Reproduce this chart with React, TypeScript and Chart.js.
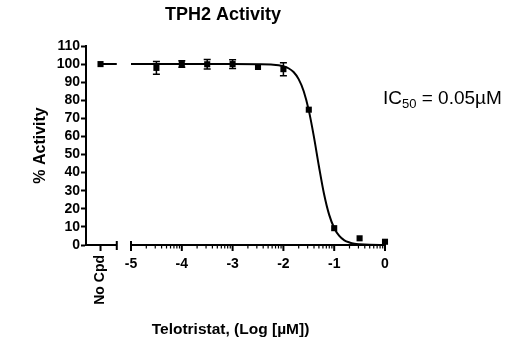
import React, { useEffect, useRef } from "react";
import { Chart, registerables } from "chart.js";

Chart.register(...registerables);

// ---- Text ----
const titleText = "TPH2 Activity";
const yTitleText = "% Activity";
const xTitleText = "Telotristat, (Log [µM])";
const noCpdLabel = "No Cpd";
const icMain = "IC";
const icSub = "50";
const icRest = " = 0.05µM";

// ---- Axes ----
const yMin = 0;
const yMax = 110;
const yStep = 10;
const xMajorTicks = [-5, -4, -3, -2, -1, 0];
const xMin = -5.886;
const xMax = 0;
const segment1End = -5.28;
const segment2Start = -5;

// ---- Data ----
const noCpdX = -5.6;
const noCpdY = 100;

const doseLog = [-4.5, -4, -3.5, -3, -2.5, -2, -1.5, -1, -0.5, 0];
const activity = [97.9, 100, 99.9, 100, 98.4, 97.2, 74.8, 9.3, 3.7, 1.8];
const activitySem = [3.5, 1.8, 2.6, 2.4, 0, 3.6, 0, 0, 0, 0];

// fitted curve
const curveSeg1X = [-5.62, -5.28];
const curveSeg1Y = [100, 100];
const curveX = [-5, -4, -3, -2.5, -2.2, -2.0, -1.9, -1.8, -1.7, -1.6, -1.5, -1.4, -1.3, -1.2, -1.1, -1.0, -0.9, -0.8, -0.7, -0.6, -0.5, -0.3, 0];
const curveY = [100, 100, 100, 99.9, 99.7, 98.8, 97.7, 95.6, 91.7, 85.0, 74.4, 59.9, 43.4, 28.2, 16.8, 9.4, 5.0, 2.6, 1.4, 0.7, 0.4, 0.1, 0];

const FONT = "'Liberation Sans', Arial, Helvetica, sans-serif";

const overlayPlugin = {
  id: "overlay",
  beforeDatasetsDraw(chart: any) {
    const ctx = chart.ctx;
    const xs = chart.scales.x;
    const ys = chart.scales.y;
    ctx.save();
    ctx.strokeStyle = "#000";
    ctx.lineWidth = 1.5;
    doseLog.forEach((x, i) => {
      const e = activitySem[i];
      if (!e) return;
      const px = xs.getPixelForValue(x);
      const y1 = ys.getPixelForValue(activity[i] + e);
      const y2 = ys.getPixelForValue(activity[i] - e);
      ctx.beginPath();
      ctx.moveTo(px, y1);
      ctx.lineTo(px, y2);
      ctx.moveTo(px - 3.5, y1);
      ctx.lineTo(px + 3.5, y1);
      ctx.moveTo(px - 3.5, y2);
      ctx.lineTo(px + 3.5, y2);
      ctx.stroke();
    });
    ctx.restore();
  },
  afterDraw(chart: any) {
    const ctx = chart.ctx;
    const xs = chart.scales.x;
    const ys = chart.scales.y;
    const area = chart.chartArea;
    const y0 = ys.getPixelForValue(yMin);
    ctx.save();
    ctx.strokeStyle = "#000";
    ctx.fillStyle = "#000";
    ctx.lineWidth = 2;
    ctx.lineCap = "butt";

    // segment 1 (No Cpd)
    const s1a = area.left;
    const s1b = xs.getPixelForValue(segment1End);
    ctx.beginPath();
    ctx.moveTo(s1a - 1, y0);
    ctx.lineTo(s1b, y0);
    ctx.moveTo(s1b, y0 - 4);
    ctx.lineTo(s1b, y0 + 5);
    const pNo = xs.getPixelForValue(noCpdX);
    ctx.moveTo(pNo, y0);
    ctx.lineTo(pNo, y0 + 6);
    ctx.stroke();

    // segment 2
    const s2a = xs.getPixelForValue(segment2Start);
    const s2b = xs.getPixelForValue(xMax);
    ctx.beginPath();
    ctx.moveTo(s2a, y0);
    ctx.lineTo(s2b + 1, y0);
    ctx.moveTo(s2a, y0 - 4);
    ctx.lineTo(s2a, y0 + 5);
    xMajorTicks.forEach((t) => {
      const p = xs.getPixelForValue(t);
      ctx.moveTo(p, y0);
      ctx.lineTo(p, y0 + 6);
    });
    ctx.stroke();
    ctx.lineWidth = 1.2;
    ctx.beginPath();
    for (let d = -5; d < 0; d++) {
      for (let k = 2; k <= 9; k++) {
        const p = xs.getPixelForValue(d + Math.log10(k));
        ctx.moveTo(p, y0);
        ctx.lineTo(p, y0 + 3.5);
      }
    }
    ctx.stroke();

    // x tick labels
    ctx.font = `bold 14px ${FONT}`;
    ctx.textAlign = "center";
    ctx.textBaseline = "middle";
    xMajorTicks.forEach((t) => {
      const p = xs.getPixelForValue(t);
      ctx.fillText(String(t), p, y0 + 19);
    });
    // No Cpd label (rotated)
    ctx.save();
    ctx.translate(pNo, y0 + 10);
    ctx.rotate(-Math.PI / 2);
    ctx.textAlign = "right";
    ctx.textBaseline = "middle";
    ctx.fillText(noCpdLabel, 0, 0);
    ctx.restore();

    // x title
    ctx.font = `bold 15.5px ${FONT}`;
    ctx.textAlign = "center";
    ctx.textBaseline = "middle";
    ctx.fillText(xTitleText, (area.left + area.right) / 2 - 5, 330);

    // y title
    ctx.save();
    ctx.font = `bold 16px ${FONT}`;
    ctx.translate(41, (area.top + area.bottom) / 2);
    ctx.rotate(-Math.PI / 2);
    ctx.textAlign = "center";
    ctx.textBaseline = "middle";
    ctx.fillText(yTitleText, 0, 0);
    ctx.restore();

    // main title
    ctx.font = `bold 18px ${FONT}`;
    ctx.textAlign = "center";
    ctx.textBaseline = "middle";
    ctx.fillText(titleText, 223, 15);

    // IC50 annotation
    ctx.textAlign = "left";
    ctx.textBaseline = "alphabetic";
    let x = 383;
    const base = 104;
    ctx.font = `19px ${FONT}`;
    ctx.fillText(icMain, x, base);
    x += ctx.measureText(icMain).width;
    ctx.font = `13px ${FONT}`;
    ctx.fillText(icSub, x, base + 4);
    x += ctx.measureText(icSub).width;
    ctx.font = `19px ${FONT}`;
    ctx.fillText(icRest, x, base);

    ctx.restore();
  },
};

export default function App() {
  const ref = useRef<HTMLCanvasElement | null>(null);
  useEffect(() => {
    if (!ref.current) return;
    const pointData = [{ x: noCpdX, y: noCpdY }].concat(
      doseLog.map((x, i) => ({ x, y: activity[i] }))
    );
    const curveData: any[] = curveSeg1X
      .map((x, i) => ({ x, y: curveSeg1Y[i] }))
      .concat([{ x: (segment1End + segment2Start) / 2, y: null as any }])
      .concat(curveX.map((x, i) => ({ x, y: curveY[i] })));

    const chart = new Chart(ref.current, {
      type: "scatter",
      data: {
        datasets: [
          {
            type: "scatter",
            data: pointData,
            pointStyle: "rect",
            pointRadius: 4.3,
            pointHoverRadius: 4.3,
            backgroundColor: "#000",
            borderColor: "#000",
            borderWidth: 0,
            clip: false as any,
            order: 0,
          },
          {
            type: "line",
            data: curveData,
            borderColor: "#000",
            borderWidth: 2,
            pointRadius: 0,
            fill: false,
            cubicInterpolationMode: "monotone",
            spanGaps: false,
            clip: false as any,
            order: 1,
          } as any,
        ],
      },
      options: {
        animation: false,
        responsive: false,
        maintainAspectRatio: false,
        devicePixelRatio: 1,
        layout: { padding: { left: 0, top: 46, right: 133, bottom: 110 } },
        plugins: {
          legend: { display: false },
          tooltip: { enabled: false },
          title: { display: false },
        },
        scales: {
          x: {
            type: "linear",
            display: false,
            min: xMin,
            max: xMax,
          },
          y: {
            type: "linear",
            min: yMin,
            max: yMax,
            afterFit: (s: any) => {
              s.width = 86;
            },
            ticks: {
              stepSize: yStep,
              autoSkip: false,
              color: "#000",
              padding: 1,
              font: { family: FONT, size: 14, weight: "bold" },
            },
            grid: {
              drawOnChartArea: false,
              drawTicks: true,
              tickLength: 5,
              tickWidth: 2,
              tickColor: "#000",
            },
            border: { display: true, color: "#000", width: 2 },
          },
        },
      },
      plugins: [overlayPlugin],
    });
    return () => chart.destroy();
  }, []);
  return (
    <div style={{ position: "fixed", left: 0, top: 0, width: 518, height: 355, background: "#fff" }}>
      <canvas ref={ref} width={518} height={355} style={{ width: 518, height: 355, display: "block" }} />
    </div>
  );
}
